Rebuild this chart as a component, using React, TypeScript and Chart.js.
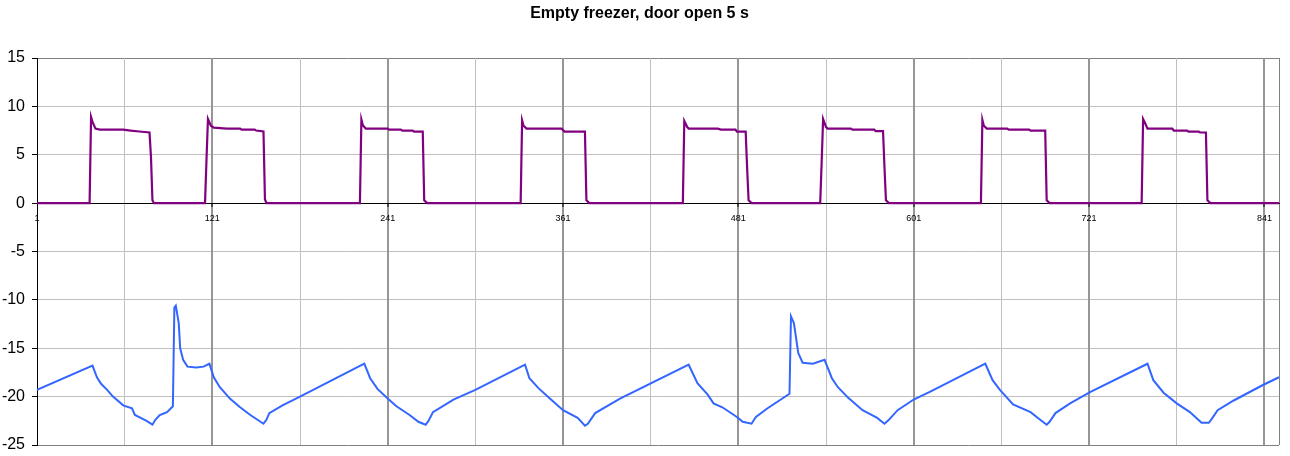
import React, { useEffect, useRef } from "react";
import { Chart, registerables } from "chart.js";

Chart.register(...registerables);

const chartTitle = "Empty freezer, door open 5 s";

// x tick values (sample index) – labelled ones every 120, light grid every 60
const labelledTicks = [1, 121, 241, 361, 481, 601, 721, 841];
const minorTicks = [61, 181, 301, 421, 541, 661, 781];
const xMin = 1;
const xMax = 851;

// y axis
const yMin = -25;
const yMax = 15;
const yStep = 5;

// purple series: [sample index, value]
const compressorPoints: [number, number][] = [
  [1, 0], [37, 0], [38, 8.9], [39, 8.4], [41, 7.7], [44, 7.6], [60, 7.6], [65, 7.5], [71, 7.4], [78, 7.3], [79, 4.8], [80, 0.3], [81, 0],
  [116, 0], [117, 4.5], [118, 8.7], [120, 8.0], [122, 7.8], [131, 7.7], [140, 7.7], [141, 7.6], [150, 7.6], [151, 7.5], [156, 7.4], [157, 0.4], [158, 0],
  [222, 0], [223, 8.65], [224, 8.05], [226, 7.7], [241, 7.7], [242, 7.6], [250, 7.6], [251, 7.5], [258, 7.5], [259, 7.4], [265, 7.4], [266, 0.3], [268, 0],
  [332, 0], [333, 8.55], [334, 8.0], [336, 7.7], [360, 7.7], [362, 7.4], [376, 7.4], [377, 0.3], [379, 0],
  [443, 0], [444, 8.5], [446, 7.86], [447, 7.7], [467, 7.7], [469, 7.6], [479, 7.6], [480, 7.4], [486, 7.4], [487, 3.6], [488, 0.3], [490, 0],
  [537, 0], [538, 4.2], [539, 8.7], [541, 7.86], [542, 7.7], [558, 7.7], [559, 7.6], [574, 7.6], [575, 7.45], [580, 7.45], [581, 3.7], [582, 0.3], [584, 0],
  [647, 0], [648, 8.6], [649, 8.0], [651, 7.7], [665, 7.7], [666, 7.6], [680, 7.6], [681, 7.5], [691, 7.5], [692, 0.3], [694, 0],
  [757, 0], [758, 8.7], [759, 8.4], [761, 7.7], [778, 7.7], [779, 7.5], [788, 7.5], [789, 7.4], [796, 7.4], [797, 7.3], [801, 7.3], [802, 0.3], [804, 0],
  [851, 0],
];

// blue series: [sample index, temperature]
const temperaturePoints: [number, number][] = [
  [1, -19.3], [39, -16.8], [42, -18.0], [45, -18.7], [49, -19.3], [53, -20.0], [60, -20.9], [66, -21.2], [68, -21.9], [76, -22.5], [80, -22.9],
  [82, -22.4], [85, -21.9], [90, -21.6], [94, -21.0], [95, -10.8], [96, -10.6], [98, -12.4], [99, -15.0], [101, -16.2], [104, -16.9], [110, -17.0],
  [115, -16.9], [119, -16.6], [122, -18.0], [126, -19.0], [133, -20.2], [140, -21.1], [147, -21.9], [156, -22.8], [158, -22.4], [160, -21.7], [169, -20.9],
  [181, -20.0], [225, -16.6], [229, -18.1], [234, -19.2], [241, -20.2], [247, -21.0], [256, -21.9], [262, -22.6], [267, -22.9], [269, -22.5], [272, -21.6],
  [286, -20.3], [301, -19.3], [335, -16.7], [338, -18.1], [344, -19.1], [352, -20.2], [361, -21.4], [371, -22.2], [376, -23.0], [378, -22.8], [383, -21.7],
  [400, -20.2], [447, -16.7], [453, -18.6], [460, -19.8], [464, -20.7], [470, -21.1], [480, -22.1], [484, -22.6], [490, -22.8], [493, -22.1],
  [501, -21.2], [516, -19.7], [517, -11.7], [519, -12.4], [522, -15.5], [525, -16.5], [532, -16.6], [540, -16.2], [545, -18.1], [549, -19.0],
  [556, -20.1], [566, -21.4], [576, -22.2], [581, -22.8], [584, -22.4], [590, -21.4], [601, -20.3], [612, -19.5], [650, -16.6], [655, -18.3], [660, -19.3],
  [669, -20.8], [681, -21.6], [686, -22.2], [692, -22.9], [694, -22.6], [698, -21.7], [708, -20.7], [722, -19.5], [761, -16.6], [765, -18.3], [772, -19.6],
  [781, -20.7], [790, -21.6], [798, -22.7], [803, -22.7], [805, -22.3], [809, -21.4], [820, -20.4], [840, -18.8], [851, -18.0],
];

const toXY = (pts: [number, number][]) => pts.map(([x, y]) => ({ x, y }));

export default function App() {
  const canvasRef = useRef<HTMLCanvasElement | null>(null);

  useEffect(() => {
    const canvas = canvasRef.current;
    if (!canvas) return;
    const allTicks = [...labelledTicks, ...minorTicks, xMax].sort((a, b) => a - b);

    const chart = new Chart(canvas, {
      type: "line",
      data: {
        datasets: [
          {
            data: toXY(compressorPoints),
            borderColor: "#800080",
            borderWidth: 2.2,
            pointRadius: 0,
            tension: 0,
            fill: false,
          },
          {
            data: toXY(temperaturePoints),
            borderColor: "#3366ff",
            borderWidth: 2,
            pointRadius: 0,
            tension: 0,
            fill: false,
          },
        ],
      },
      options: {
        animation: false,
        responsive: false,
        maintainAspectRatio: false,
        layout: { padding: { left: 0, right: 11, top: 0, bottom: 11 } },
        plugins: {
          legend: { display: false },
          tooltip: { enabled: false },
          title: {
            display: true,
            text: chartTitle,
            color: "#000",
            font: { family: "'Liberation Sans', Arial, sans-serif", size: 16, weight: "bold" },
            padding: { top: 4, bottom: 34.8 },
          },
        },
        scales: {
          y: {
            type: "linear",
            position: "left",
            min: yMin,
            max: yMax,
            afterFit: (scale: any) => {
              scale.width = 37;
              scale.paddingTop = 0;
              scale.paddingBottom = 0;
            },
            ticks: {
              stepSize: yStep,
              color: "#000",
              padding: 7,
              font: { family: "'Liberation Sans', Arial, sans-serif", size: 16 },
            },
            grid: {
              color: (ctx: any) => {
                const v = ctx.tick?.value;
                if (v === yMax || v === yMin) return "#808080";
                if (v === 0) return "#000";
                return "#c0c0c0";
              },
              lineWidth: 1,
              tickLength: 5,
              tickColor: "#000",
            },
            border: { color: "#000", width: 1 },
          },
          x: {
            type: "linear",
            position: { y: 0 } as any,
            min: xMin,
            max: xMax,
            afterBuildTicks: (scale: any) => {
              scale.ticks = allTicks.map((v) => ({ value: v }));
            },
            afterFit: (scale: any) => {
              scale.height = 0;
              scale.paddingTop = 0;
              scale.paddingBottom = 0;
            },
            ticks: {
              autoSkip: false,
              maxRotation: 0,
              minRotation: 0,
              color: "#000",
              padding: 7,
              font: { family: "'Liberation Sans', Arial, sans-serif", size: 9 },
              callback: (value: any) => (labelledTicks.includes(Number(value)) ? String(value) : ""),
            },
            grid: {
              color: (ctx: any) => {
                const v = ctx.tick?.value;
                if (v === xMin) return "rgba(0,0,0,0)";
                if (v === xMax) return "#808080";
                if (labelledTicks.includes(v)) return "#969696";
                return "#c0c0c0";
              },
              lineWidth: (ctx: any) => {
                const v = ctx.tick?.value;
                if (v !== xMin && labelledTicks.includes(v)) return 2;
                return 1;
              },
              tickLength: 3,
              tickWidth: 1,
              tickColor: (ctx: any) => {
                const v = ctx.tick?.value;
                return labelledTicks.includes(v) ? "#000" : "rgba(0,0,0,0)";
              },
            },
            border: { color: "#000", width: 1 },
          },
        },
      },
    });

    return () => chart.destroy();
  }, []);

  return (
    <div style={{ position: "fixed", left: 0, top: 0, width: 1290, height: 456, background: "#fff" }}>
      <canvas ref={canvasRef} width={1290} height={456} style={{ display: "block", width: 1290, height: 456 }} />
    </div>
  );
}
